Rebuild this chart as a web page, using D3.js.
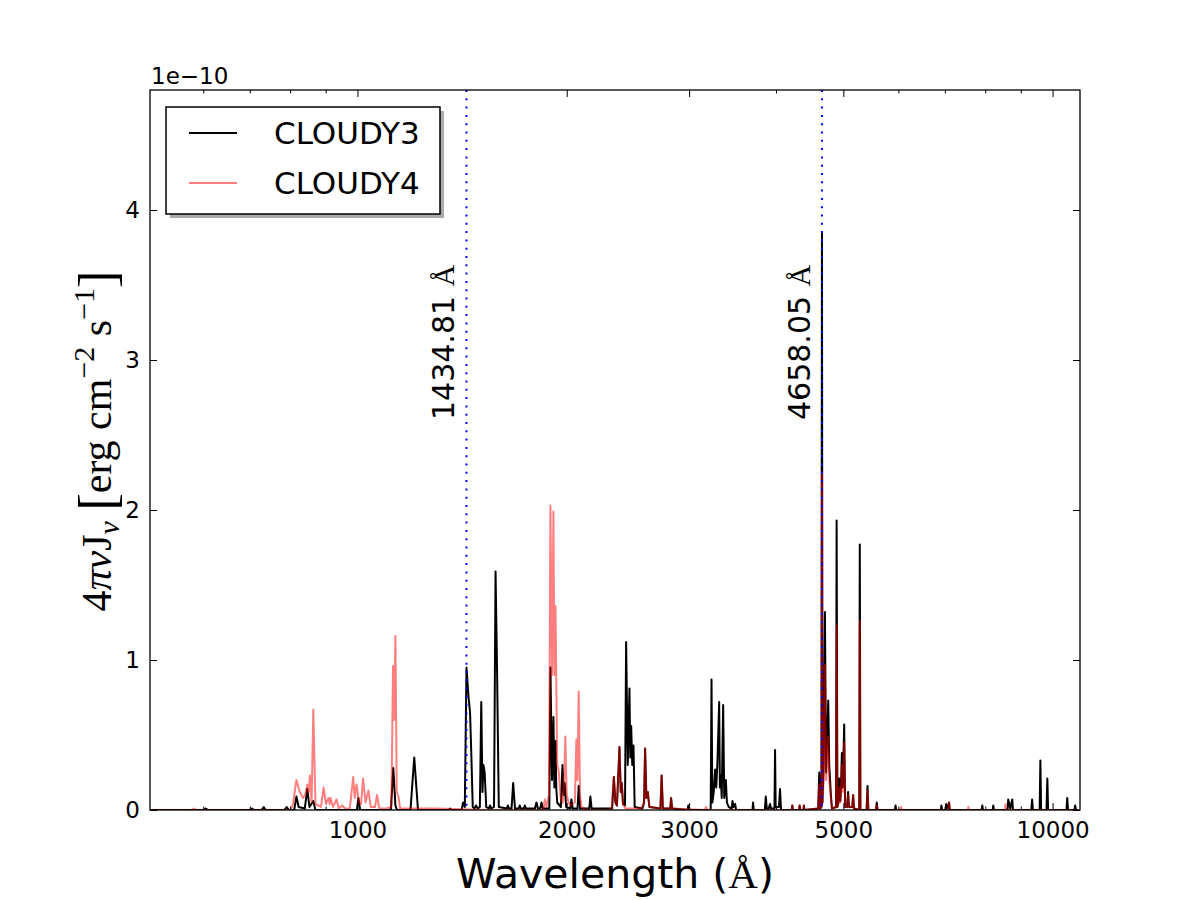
<!DOCTYPE html>
<html>
<head>
<meta charset="utf-8">
<script src="https://cdn.jsdelivr.net/npm/d3@7"></script>
<style>
  body { margin: 0; background: #fff; }
  text { font-family: "DejaVu Sans", sans-serif; }
</style>
</head>
<body>
<div id="chart"></div>
<script>
// spectra, flux in units of 1e-10 erg cm^-2 s^-1, wavelength in Angstrom
const cloudy3 = [
  [505,0],[600,0],[605,0.01],[610,0],[700,0],[705,0.01],[710,0],[728,0],[733,0.02],[738,0],
  [785,0],[791,0.02],[797,0],[811,0],[817,0.09],[823,0.02],[840,0.01],[847,0.14],[853,0.02],
  [864,0.06],[870,0],[998,0],[1003,0.08],[1009,0],[1117,0],[1126,0.28],[1134,0.03],[1140,0],
  [1192,0],[1207,0.35],[1222,0],[1354,0],[1359,0.01],[1364,0],[1412,0],[1419,0.05],[1427,0.02],
  [1435,0.95],[1445,0.75],[1452,0.65],[1458,0.38],[1465,0.02],[1474,0.01],[1481,0.03],[1490,0.01],
  [1500,0.02],[1507,0.72],[1513,0.12],[1518,0.3],[1524,0.25],[1532,0.02],[1545,0.01],[1551,0.03],
  [1558,0.01],[1572,0.02],[1580,1.59],[1588,0.93],[1597,0.02],[1640,0.01],[1646,0.03],[1652,0.01],
  [1666,0.01],[1675,0.18],[1685,0.01],[1706,0.01],[1712,0.03],[1718,0.01],[1735,0.01],[1741,0.03],
  [1748,0.01],[1800,0.01],[1809,0.05],[1818,0.01],[1832,0.01],[1840,0.05],[1848,0.01],[1888,0.01],
  [1895,0.95],[1905,0.2],[1914,0.62],[1920,0.15],[1927,0.46],[1932,0.15],[1938,0.05],[1962,0.02],
  [1972,0.3],[1980,0.1],[1987,0.18],[1996,0.02],[2024,0.01],[2031,0.07],[2040,0.01],[2073,0.01],
  [2081,0.16],[2090,0.01],[2155,0.01],[2163,0.09],[2172,0.01],[2325,0.01],[2338,0.22],[2350,0.05],
  [2362,0.03],[2382,0.42],[2392,0.12],[2400,0.18],[2410,0.04],[2426,0.03],[2435,1.12],[2448,0.3],
  [2462,0.81],[2469,0.35],[2476,0.56],[2485,0.3],[2495,0.43],[2505,0.02],[2570,0.01],[2584,0.05],
  [2593,0.41],[2604,0.08],[2616,0.12],[2630,0.02],[2728,0.01],[2739,0.23],[2750,0.01],[2818,0.01],
  [2826,0.08],[2836,0.01],[2986,0],[2992,0.03],[2998,0],[3222,0],[3231,0.87],[3240,0.05],[3255,0.12],
  [3270,0.27],[3282,0.15],[3295,0.32],[3314,0.72],[3322,0.15],[3332,0.23],[3342,0.08],[3358,0.7],
  [3370,0.08],[3388,0.2],[3400,0.05],[3420,0.02],[3455,0.01],[3463,0.06],[3475,0.02],[3494,0.04],
  [3505,0],[3700,0],[3708,0.05],[3716,0],[3855,0],[3867,0.09],[3880,0.01],[3905,0.01],[3922,0.04],
  [3935,0.01],[3980,0.01],[3988,0.4],[3996,0.02],[4040,0.02],[4054,0.14],[4068,0],[4215,0],[4222,0.03],
  [4230,0],[4318,0],[4326,0.03],[4335,0],[4380,0],[4388,0.03],[4396,0],[4600,0.01],[4617,0.25],
  [4630,0.01],[4650,0.02],[4658,3.85],[4666,0.05],[4684,0.3],[4704,1.32],[4722,0.25],[4740,0.5],
  [4756,0.73],[4772,0.3],[4798,0.1],[4815,0.01],[4880,0.02],[4890,1.93],[4902,0.02],[4918,0.05],
  [4932,0.21],[4950,0.06],[4964,0.2],[4976,0.38],[4990,0.15],[5014,0.57],[5030,0.02],[5062,0.02],
  [5080,0.12],[5095,0.02],[5150,0.02],[5165,0.1],[5180,0.01],[5270,0],[5280,1.77],[5291,0],[5400,0],
  [5417,0.16],[5432,0],[5570,0],[5585,0.05],[5600,0],[5930,0],[5944,0.03],[5958,0],[6905,0],[6919,0.03],
  [6935,0],[7010,0],[7027,0.04],[7060,0.01],[7097,0.05],[7115,0],[7905,0],[7923,0.03],[7940,0],
  [8200,0],[8216,0.03],[8235,0],[8612,0],[8633,0.07],[8690,0.01],[8748,0.07],[8770,0],[9320,0],
  [9344,0.07],[9368,0],[9580,0],[9603,0.33],[9627,0],[9800,0],[9827,0.21],[9852,0],[10470,0],
  [10497,0.08],[10525,0],[10750,0],[10777,0.03],[10805,0],[10870,0]
];

const cloudy4 = [
  [505,0],[577,0],[582,0.01],[587,0],[800,0],[807,0.03],[817,0.2],[826,0.12],[835,0.08],[841,0.1],
  [847,0.17],[851,0.12],[854,0.23],[859,0.05],[864,0.67],[870,0.04],[879,0.03],[886,0.02],[894,0.15],
  [901,0.04],[909,0.08],[912,0.04],[915,0.08],[922,0.02],[933,0.07],[940,0.01],[951,0.03],[960,0.01],
  [975,0.01],[986,0.22],[991,0.08],[997,0.17],[1005,0.05],[1012,0.04],[1019,0.21],[1027,0.05],
  [1037,0.13],[1045,0.02],[1060,0.02],[1067,0.1],[1075,0.01],[1100,0.01],[1119,0.02],[1125,0.96],
  [1129,0.6],[1134,1.16],[1139,0.12],[1145,0.09],[1152,0.01],[1300,0.01],[1540,0],[1852,0],[1860,0.07],
  [1870,0.02],[1886,0.1],[1895,2.03],[1905,0.9],[1914,1.99],[1920,0.9],[1927,1.36],[1938,0.3],
  [1948,0.26],[1960,0.08],[1975,0.05],[1983,0.2],[1991,0.49],[2000,0.1],[2012,0.05],[2025,0.03],
  [2055,0.05],[2065,0.47],[2072,0.2],[2081,0.79],[2090,0.1],[2100,0.02],[2140,0],[2300,0],[2320,0.01],
  [2338,0.22],[2350,0.05],[2362,0.03],[2382,0.42],[2392,0.12],[2400,0.18],[2410,0.04],[2430,0.01],
  [2560,0.01],[2584,0.05],[2593,0.41],[2604,0.08],[2616,0.12],[2630,0.02],[2728,0.01],[2739,0.23],
  [2750,0.01],[2818,0.01],[2826,0.08],[2836,0.01],[3160,0],[3172,0.02],[3185,0],[4215,0],[4222,0.03],
  [4230,0],[4318,0],[4326,0.03],[4335,0],[4380,0],[4388,0.03],[4396,0],[4600,0.01],[4617,0.17],
  [4630,0.01],[4650,0.02],[4658,2.25],[4666,0.05],[4684,0.2],[4704,0.97],[4722,0.2],[4740,0.35],
  [4756,0.49],[4772,0.2],[4798,0.08],[4815,0.01],[4880,0.02],[4890,1.23],[4902,0.02],[4918,0.04],
  [4932,0.15],[4950,0.05],[4964,0.15],[4976,0.3],[4990,0.12],[5014,0.45],[5030,0.02],[5062,0.02],
  [5080,0.1],[5095,0.02],[5150,0.02],[5165,0.1],[5180,0.01],[5270,0],[5280,1.26],[5291,0],[5400,0],
  [5417,0.13],[5432,0],[5570,0],[5585,0.03],[5600,0],[6040,0],[6056,0.02],[6072,0],[7080,0],
  [7097,0.05],[7115,0],[7550,0],[7566,0.02],[7582,0],[8540,0],[8557,0.04],[8575,0],[10870,0]
];

const markLines = [1434.81, 4658.05];
const xMajor = [1000, 2000, 3000, 5000, 10000];
const xMinor = [600, 700, 800, 900, 4000, 6000, 7000, 8000, 9000];
const yTicks = [0, 1, 2, 3, 4];
const seriesNames = ["CLOUDY3", "CLOUDY4"];

const W = 1200, H = 900;
const m = {left: 150, right: 1080, top: 90, bottom: 810};

const svg = d3.select("#chart").append("svg")
  .attr("width", W).attr("height", H);

const x = d3.scaleLog().domain([503, 10950]).range([m.left, m.right]);
const y = d3.scaleLinear().domain([0, 4.8]).range([m.bottom, m.top]);

svg.append("clipPath").attr("id", "clip")
  .append("rect")
    .attr("x", m.left).attr("y", m.top)
    .attr("width", m.right - m.left).attr("height", m.bottom - m.top);

const line = d3.line().x(d => x(d[0])).y(d => y(d[1]));

const plot = svg.append("g").attr("clip-path", "url(#clip)");

plot.append("path")
  .attr("d", line(cloudy3))
  .attr("fill", "none")
  .attr("stroke", "#000")
  .attr("stroke-width", 2)
  .attr("stroke-linejoin", "round");

plot.append("path")
  .attr("d", line(cloudy4))
  .attr("fill", "none")
  .attr("stroke", "#ff0000")
  .attr("stroke-opacity", 0.5)
  .attr("stroke-width", 2)
  .attr("stroke-linejoin", "round");

// blue dotted markers
plot.selectAll("line.mark")
  .data(markLines)
  .enter()
    .append("line")
    .attr("x1", d => x(d)).attr("x2", d => x(d))
    .attr("y1", m.top).attr("y2", m.bottom)
    .attr("stroke", "#0000ff")
    .attr("stroke-width", 2)
    .attr("stroke-dasharray", "2,6.3");

const lab = svg.selectAll("text.mark")
  .data(markLines)
  .enter()
    .append("text")
    .attr("transform", d => `translate(${x(d) - 12},${y(2.6)}) rotate(-90)`)
    .attr("font-size", 30);
lab.append("tspan").text(d => d.toFixed(2) + " ");
lab.append("tspan").style("font-family", "'Liberation Serif', serif").text("Å");

// axes, ticks pointing inwards
function clean(g) { g.select(".domain").remove(); }

svg.append("g").attr("transform", `translate(0,${m.bottom})`)
  .call(d3.axisBottom(x).tickValues(xMajor).tickFormat(d3.format("d")).tickSize(-7).tickPadding(12))
  .call(clean);
svg.append("g").attr("transform", `translate(0,${m.bottom})`)
  .call(d3.axisBottom(x).tickValues(xMinor).tickFormat("").tickSize(-3.5))
  .call(clean);
svg.append("g").attr("transform", `translate(0,${m.top})`)
  .call(d3.axisTop(x).tickValues(xMajor).tickFormat("").tickSize(-7))
  .call(clean);
svg.append("g").attr("transform", `translate(0,${m.top})`)
  .call(d3.axisTop(x).tickValues(xMinor).tickFormat("").tickSize(-3.5))
  .call(clean);
svg.append("g").attr("transform", `translate(${m.left},0)`)
  .call(d3.axisLeft(y).tickValues(yTicks).tickFormat(d3.format("d")).tickSize(-7).tickPadding(10))
  .call(clean);
svg.append("g").attr("transform", `translate(${m.right},0)`)
  .call(d3.axisRight(y).tickValues(yTicks).tickFormat("").tickSize(-7))
  .call(clean);

svg.selectAll(".tick text")
  .attr("font-size", 23)
  .attr("font-family", "'DejaVu Sans', sans-serif")
  .attr("fill", "#000");
svg.selectAll(".tick line").attr("stroke", "#000");

svg.append("rect")
  .attr("x", m.left).attr("y", m.top)
  .attr("width", m.right - m.left).attr("height", m.bottom - m.top)
  .attr("fill", "none").attr("stroke", "#000").attr("stroke-width", 1.3);

// offset text
svg.append("text").attr("x", m.left + 1).attr("y", 84)
  .attr("font-size", 23).text("1e\u221210");

// x label
const xl = svg.append("text").attr("x", 615).attr("y", 888)
  .attr("text-anchor", "middle").attr("font-size", 41);
xl.append("tspan").text("Wavelength (");
xl.append("tspan").style("font-family", "'Liberation Serif', serif").text("Å");
xl.append("tspan").text(")");

// y label (math style)
const yl = svg.append("text")
  .attr("transform", "translate(111,441) rotate(-90)")
  .attr("text-anchor", "middle")
  .style("font-family", "'Liberation Serif', serif")
  .attr("font-size", 42);
yl.append("tspan").text("4");
yl.append("tspan").attr("font-style", "italic").text("πν");
yl.append("tspan").text("J");
yl.append("tspan").attr("font-style", "italic").attr("font-size", 30).attr("dy", 8).text("ν");
yl.append("tspan").attr("dy", -8).text(" ");
yl.append("tspan").attr("font-size", 52).attr("dy", 4).text("[");
yl.append("tspan").attr("dy", -4).text("erg cm");
yl.append("tspan").attr("font-size", 30).attr("dy", -17).text("\u22122");
yl.append("tspan").attr("dy", 17).text(" s");
yl.append("tspan").attr("font-size", 30).attr("dy", -17).text("\u22121");
yl.append("tspan").attr("font-size", 52).attr("dy", 21).text("]");

// legend
const lg = svg.append("g");
lg.append("rect").attr("x", 170).attr("y", 111).attr("width", 274).attr("height", 107)
  .attr("fill", "#aaaaaa");
lg.append("rect").attr("x", 166).attr("y", 107).attr("width", 274).attr("height", 107)
  .attr("fill", "#fff").attr("stroke", "#000").attr("stroke-width", 1.5);

const legendColors = ["#000", "rgba(255,0,0,0.5)"];
seriesNames.forEach((name, i) => {
  const ly = 133 + i * 50;
  lg.append("line").attr("x1", 189).attr("x2", 237).attr("y1", ly).attr("y2", ly)
    .attr("stroke", legendColors[i]).attr("stroke-width", 2);
  lg.append("text").attr("x", 274).attr("y", ly + 11).attr("font-size", 31).text(name);
});
</script>
</body>
</html>
